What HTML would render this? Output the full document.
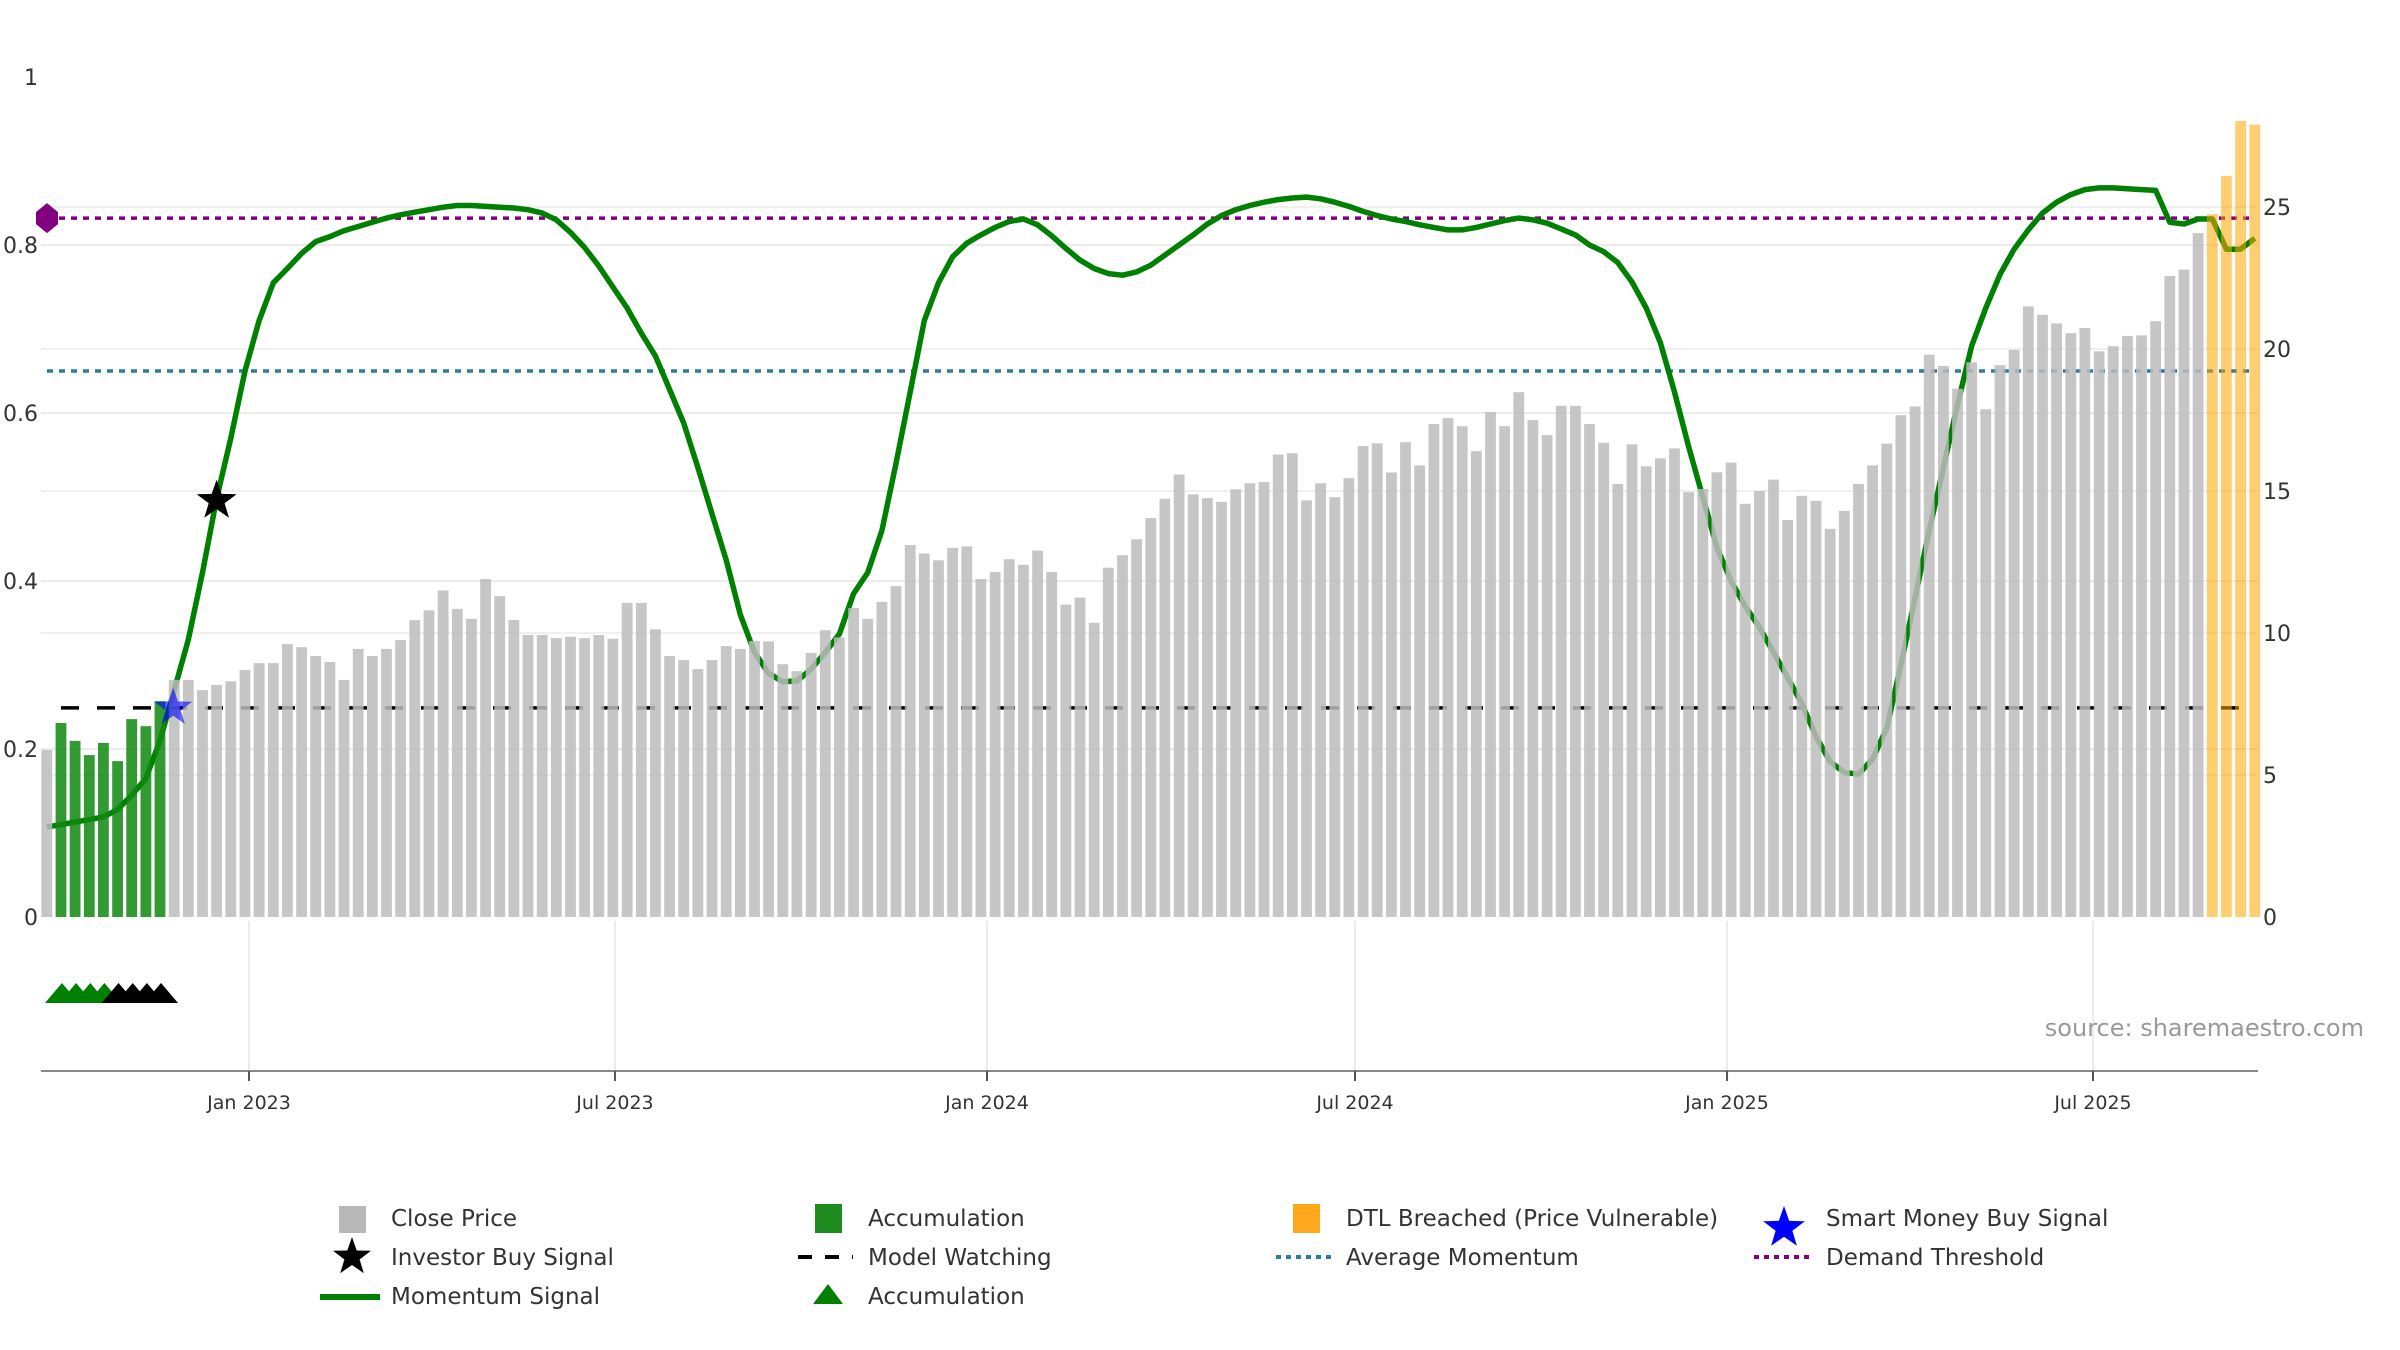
<!DOCTYPE html>
<html><head><meta charset="utf-8"><style>
html,body{margin:0;padding:0;background:#fff;}
svg{display:block;font-family:"DejaVu Sans","Liberation Sans",sans-serif;}
</style></head><body>
<svg id="chart" width="2400" height="1350" viewBox="0 0 2400 1350" xmlns="http://www.w3.org/2000/svg">
<g id="grid"></g>
<g id="lines"></g>
<g id="momentum"></g>
<g id="bars"></g>
<g id="marks"></g>
<g id="axes"></g>
<text x="2364" y="1036" text-anchor="end" font-size="24" fill="#999">source: sharemaestro.com</text>
<g id="legend" font-size="23" fill="#333">
  <g><rect x="339" y="1206" width="27" height="27" fill="#b8b8b8"/><text x="391" y="1226">Close Price</text></g>
  <g><polygon points="" id="lgStar1" fill="#000"/><text x="391" y="1265">Investor Buy Signal</text></g>
  <g><line x1="320" y1="1297" x2="380" y2="1297" stroke="#008000" stroke-width="6"/><text x="391" y="1304">Momentum Signal</text></g>
  <g><rect x="815" y="1204" width="27" height="29" fill="#1e8c1e"/><text x="868" y="1226">Accumulation</text></g>
  <g><line x1="798" y1="1257" x2="853" y2="1257" stroke="#000" stroke-width="4" stroke-dasharray="14 13"/><text x="868" y="1265">Model Watching</text></g>
  <g><polygon points="828,1284 813,1304 843,1304" fill="#008000"/><text x="868" y="1304">Accumulation</text></g>
  <g><rect x="1293" y="1204" width="27" height="29" fill="#ffa81e"/><text x="1346" y="1226">DTL Breached (Price Vulnerable)</text></g>
  <g><line x1="1276" y1="1257" x2="1332" y2="1257" stroke="#2a7ca0" stroke-width="4" stroke-dasharray="5 5"/><text x="1346" y="1265">Average Momentum</text></g>
  <g><polygon id="lgStar2" points="" fill="#0000ff"/><text x="1826" y="1226">Smart Money Buy Signal</text></g>
  <g><line x1="1754" y1="1257" x2="1812" y2="1257" stroke="#800080" stroke-width="4" stroke-dasharray="5 5"/><text x="1826" y="1265">Demand Threshold</text></g>
</g>
</svg>
<script>
// ---- data ----
const startDate = "2022-09-23";
const closePrice = [5.88,6.83,6.2,5.7,6.13,5.49,6.97,6.72,7.6,8.35,8.35,7.99,8.17,8.3,8.7,8.94,8.94,9.61,9.5,9.19,8.98,8.35,9.44,9.19,9.44,9.75,10.45,10.8,11.5,10.85,10.5,11.9,11.3,10.46,9.93,9.93,9.82,9.87,9.82,9.93,9.8,11.06,11.06,10.13,9.19,9.05,8.73,9.05,9.54,9.44,9.72,9.7,8.9,8.66,9.3,10.1,9.85,10.88,10.5,11.1,11.65,13.1,12.8,12.56,13.0,13.05,11.9,12.15,12.6,12.4,12.9,12.15,11.0,11.25,10.36,12.3,12.74,13.3,14.05,14.73,15.58,14.88,14.75,14.62,15.06,15.27,15.32,16.28,16.33,14.67,15.27,14.78,15.45,16.58,16.68,15.65,16.72,15.9,17.36,17.57,17.28,16.4,17.78,17.28,18.48,17.5,16.97,18.0,18.0,17.36,16.7,15.25,16.64,15.87,16.15,16.5,14.96,15.07,15.66,16.0,14.55,15.0,15.4,13.98,14.83,14.65,13.67,14.3,15.25,15.9,16.67,17.67,17.98,19.8,19.4,18.6,19.53,17.88,19.43,19.97,21.5,21.2,20.9,20.56,20.74,19.92,20.1,20.46,20.48,20.98,22.57,22.8,24.08,24.75,26.1,28.03,27.9];
const accumulationIdx = [1,8];   // inclusive range
const dtlIdx = [153,156];
const momentum = [.107,.11,.113,.116,.119,.128,.145,.165,.21,.27,.33,.41,.498,.57,.65,.71,.755,.772,.79,.804,.81,.817,.822,.827,.832,.836,.839,.842,.845,.847,.847,.846,.845,.844,.842,.838,.83,.815,.797,.775,.75,.725,.695,.668,.628,.588,.535,.48,.425,.36,.315,.29,.28,.281,.295,.315,.337,.385,.41,.46,.54,.625,.71,.755,.786,.802,.812,.821,.828,.831,.824,.811,.796,.782,.772,.766,.764,.768,.776,.788,.8,.812,.825,.835,.842,.847,.851,.854,.856,.857,.855,.851,.846,.84,.835,.831,.828,.824,.821,.818,.818,.821,.825,.829,.832,.83,.826,.819,.812,.8,.792,.779,.756,.725,.684,.625,.56,.5,.44,.4,.37,.345,.315,.285,.254,.215,.185,.172,.17,.188,.225,.3,.38,.46,.535,.61,.68,.725,.765,.795,.818,.838,.851,.86,.866,.868,.868,.867,.866,.865,.827,.825,.831,.831,.795,.795,.808];
const demandThreshold = 0.832;
const averageMomentum = 0.65;
const modelWatching = 0.249;
const investorBuy = {idx: 12, value: 0.498};
const smartMoneyBuy = {idx: 9, value: 0.249};
const accTriangles = [1,2,3,4];
const watchTriangles = [5,6,7,8];
const leftTicks = [0,0.2,0.4,0.6,0.8,1];
const leftTickLabels = ["0","0.2","0.4","0.6","0.8","1"];
const rightTicks = [0,5,10,15,20,25];
const dateTicks = ["2023-01-01","2023-07-01","2024-01-01","2024-07-01","2025-01-01","2025-07-01"];
const dateTickLabels = ["Jan 2023","Jul 2023","Jan 2024","Jul 2024","Jan 2025","Jul 2025"];

// ---- scales ----
const NS="http://www.w3.org/2000/svg";
const PX_PER_DAY = (2093-249)/912, X0 = Date.UTC(2023,0,1);
const xDate = s => { const d=new Date(s+"T00:00:00Z"); return 249 + (d-X0)/86400000*PX_PER_DAY; };
const start = new Date(startDate+"T00:00:00Z");
const xIdx = i => 249 + ((start-X0)/86400000 + 7*i)*PX_PER_DAY;
const yL = v => 917 - 840*v;
const yR = v => 917 - 28.4*v;
const L=41, R=2258;
function el(tag, attrs, parent){const e=document.createElementNS(NS,tag);for(const k in attrs)e.setAttribute(k,attrs[k]);parent.appendChild(e);return e;}
function starPts(cx,cy,r){let p=[];for(let k=0;k<10;k++){const a=-Math.PI/2+k*Math.PI/5;const rr=k%2?r*0.4:r;p.push((cx+rr*Math.cos(a)).toFixed(1)+","+(cy+rr*Math.sin(a)).toFixed(1));}return p.join(" ");}

const grid=document.getElementById('grid');
leftTicks.slice(1,5).forEach(v=>{const g=el('line',{x1:L,x2:R,y1:yL(v),y2:yL(v),stroke:'#ececec','stroke-width':2},grid);

});
rightTicks.slice(1).forEach(v=>{const g=el('line',{x1:L,x2:R,y1:yR(v),y2:yR(v),stroke:'#f0f0f0','stroke-width':2},grid);

});
dateTicks.forEach(d=>{const g=el('line',{x1:xDate(d),x2:xDate(d),y1:921,y2:1071,stroke:'#ececec','stroke-width':2},grid);

});

const lines=document.getElementById('lines');
let ln=el('line',{x1:47,x2:2250,y1:yL(demandThreshold),y2:yL(demandThreshold),stroke:'#800080','stroke-width':3.5,'stroke-dasharray':'6 6'},lines);


ln=el('line',{x1:47,x2:2250,y1:yL(averageMomentum),y2:yL(averageMomentum),stroke:'#2a7ca0','stroke-width':3.5,'stroke-dasharray':'6 6'},lines);


ln=el('line',{x1:61,x2:2245,y1:yL(modelWatching),y2:yL(modelWatching),stroke:'#000','stroke-width':3.5,'stroke-dasharray':'18 18'},lines);


const cy=yL(demandThreshold);
ln=el('polygon',{points:`47,${cy-15} 58,${cy-6} 58,${cy+6} 47,${cy+15} 36,${cy+6} 36,${cy-6}`,fill:'#800080'},lines);



const mg=document.getElementById('momentum');
const pl=el('polyline',{points:momentum.map((v,i)=>xIdx(i).toFixed(1)+","+yL(v).toFixed(1)).join(" "),fill:'none',stroke:'#008000','stroke-width':5.5,'stroke-linejoin':'round'},mg);



const bg=document.getElementById('bars');
closePrice.forEach((v,i)=>{
  let fill='#bcbcbc', op=0.85, nm='close-price-bar';
  if(i>=accumulationIdx[0]&&i<=accumulationIdx[1]){fill='#0f880f';nm='accumulation-bar';}
  if(i>=dtlIdx[0]&&i<=dtlIdx[1]){fill='#ffa500';op=0.55;nm='dtl-breached-bar';}
  const b=el('rect',{x:(xIdx(i)-5.4).toFixed(1),y:yR(v).toFixed(1),width:10.8,height:(917-yR(v)).toFixed(1),fill:fill,'fill-opacity':op},bg);
  
  
});

const mk=document.getElementById('marks');
let s=el('polygon',{points:starPts(xIdx(smartMoneyBuy.idx)-1,yL(smartMoneyBuy.value),20),fill:'#0000ff','fill-opacity':0.6},mk);


s=el('polygon',{points:starPts(xIdx(investorBuy.idx),yL(investorBuy.value)+2,21),fill:'#000'},mk);


accTriangles.forEach(i=>{const x=xIdx(i)+1;const t=el('polygon',{points:`${x},983 ${x-17},1003 ${x+17},1003`,fill:'#008000'},mk);

});
watchTriangles.forEach(i=>{const x=xIdx(i)+1;const t=el('polygon',{points:`${x},983 ${x-17},1003 ${x+17},1003`,fill:'#000'},mk);

});

const ax=document.getElementById('axes');
let a=el('line',{x1:L,x2:R,y1:1071,y2:1071,stroke:'#888','stroke-width':2},ax);


dateTicks.forEach((d,k)=>{const x=xDate(d);
  const t=el('line',{x1:x,x2:x,y1:1071,y2:1081,stroke:'#555','stroke-width':2},ax);
  
  
  const tx=el('text',{x:x,y:1109,'text-anchor':'middle','font-size':19,fill:'#333'},ax);tx.textContent=dateTickLabels[k];
  
  });
leftTicks.forEach((v,k)=>{const tx=el('text',{x:38,y:yL(v)+8,'text-anchor':'end','font-size':22,fill:'#333'},ax);tx.textContent=leftTickLabels[k];
  
  });
rightTicks.forEach(v=>{const tx=el('text',{x:2263,y:yR(v)+8,'font-size':22,fill:'#333'},ax);tx.textContent=String(v);
  
  });

document.getElementById('lgStar1').setAttribute('points',starPts(352,1257,20));
document.getElementById('lgStar2').setAttribute('points',starPts(1784,1228,22));
</script>
</body></html>
